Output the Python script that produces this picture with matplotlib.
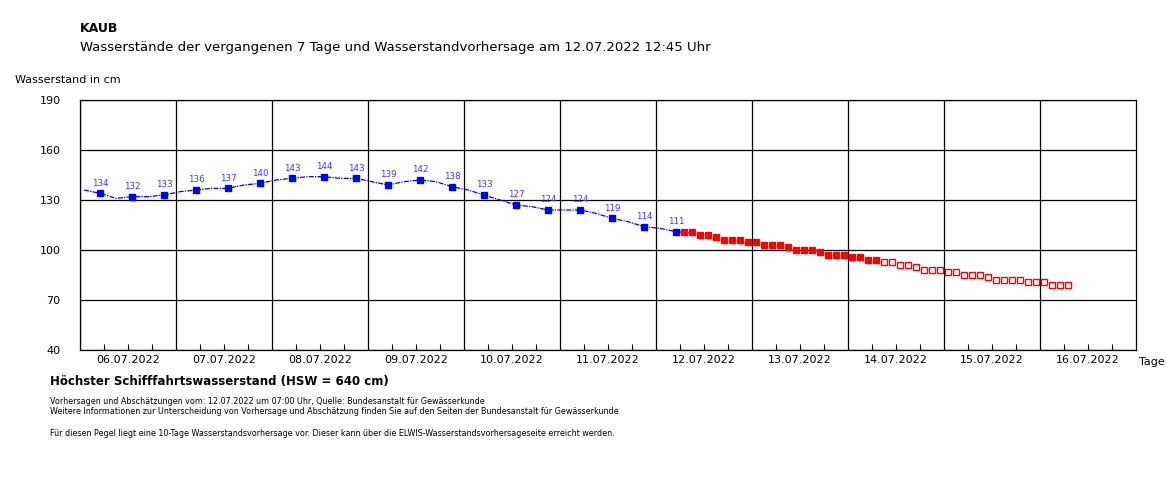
import matplotlib
matplotlib.use('Agg')
import matplotlib.pyplot as plt
import matplotlib.dates as mdates
import matplotlib.transforms as mtransforms
import pandas as pd

# Messwerte (beschriftete Punkte alle 8 Stunden)
mess_zeit = pd.date_range('2022-07-06 05:00', periods=19, freq='8h')
mess_werte = [134, 132, 133, 136, 137, 140, 143, 144, 143, 139,
              142, 138, 133, 127, 124, 124, 119, 114, 111]

linie_zeit = pd.date_range('2022-07-06 01:00', periods=39, freq='4h')
linie_werte = [136, 134, 131, 132, 132, 133, 135, 136, 137, 137,
               139, 140, 142, 143, 144, 144, 143, 143, 141, 139,
               141, 142, 141, 138, 136, 133, 130, 127, 126, 124,
               124, 124, 122, 119, 117, 114, 113, 111, 110]

# Vorhersage (gefuellt) und Abschaetzung (hohl), alle 2 Stunden
vorh_zeit = pd.date_range('2022-07-12 07:00', periods=49, freq='2h')
vorh_werte = [111, 111, 109, 109, 108, 106, 106, 106, 105, 105,
              103, 103, 103, 102, 100, 100, 100, 99, 97, 97,
              97, 96, 96, 94, 94,
              93, 93, 91, 91, 90, 88, 88, 88, 87, 87,
              85, 85, 85, 84, 82, 82, 82, 82, 81, 81,
              81, 79, 79, 79]
n_vorhersage = 25

tage = pd.date_range('2022-07-06', periods=11, freq='D')
y_ticks = [40, 70, 100, 130, 160, 190]

W, H = 1166, 480
fig = plt.figure(figsize=(W / 100, H / 100), dpi=100)
ax = fig.add_axes([80 / W, 1 - 350 / H, 1056 / W, 250 / H])

ax.plot(linie_zeit, linie_werte, color='#0000ff', lw=0.9,
        linestyle=(0, (4, 1, 1, 1)), zorder=3)
ax.plot(mess_zeit, mess_werte, 's', color='#0000ff', ms=4.3, zorder=4)
for t, v in zip(mess_zeit, mess_werte):
    ax.annotate(str(v), (t, v), xytext=(0, 4), textcoords='offset points',
                ha='center', va='bottom', fontsize=6.3, color='#3c3cff')

ax.plot(vorh_zeit[:n_vorhersage], vorh_werte[:n_vorhersage], 's',
        color='#ff0000', ms=4.3, zorder=5)
ax.plot(vorh_zeit[n_vorhersage:], vorh_werte[n_vorhersage:], 's',
        mfc='white', mec='#ff0000', mew=1.0, ms=3.9, zorder=5)

ax.set_xlim(pd.Timestamp('2022-07-06'), pd.Timestamp('2022-07-17'))
ax.set_ylim(40, 190)
ax.set_yticks(y_ticks)
ax.tick_params(axis='y', length=0, pad=14, labelsize=8)

# Tagesgitter, Beschriftung zur Tagesmitte
ax.set_xticks(tage)
ax.xaxis.set_major_formatter(mdates.DateFormatter(''))
ax.xaxis.set_minor_locator(mdates.HourLocator(byhour=[6, 12, 18]))
ax.tick_params(axis='x', which='major', length=0)
ax.tick_params(axis='x', which='minor', direction='in', length=4,
               width=0.8, color='black')
off = mtransforms.ScaledTranslation(0, -5 / 100, fig.dpi_scale_trans)
for t in tage:
    ax.text(t + pd.Timedelta(hours=12), 40, t.strftime('%d.%m.%Y'),
            ha='center', va='top', fontsize=8,
            transform=ax.transData + off, clip_on=False)
ax.grid(True, which='major', color='black', lw=0.9)
for s in ax.spines.values():
    s.set_linewidth(0.9)

fig.text(1139 / W, 1 - 362 / H, 'Tage', ha='left', va='center', fontsize=8)
fig.text(80 / W, 1 - 28 / H, 'KAUB', ha='left', va='center',
         fontsize=9, fontweight='bold')
fig.text(80 / W, 1 - 48 / H,
         'Wasserstände der vergangenen 7 Tage und Wasserstandvorhersage am 12.07.2022 12:45 Uhr',
         ha='left', va='center', fontsize=9.5)
fig.text(15 / W, 1 - 80 / H, 'Wasserstand in cm', ha='left', va='center',
         fontsize=8)
fig.text(50 / W, 1 - 381 / H, 'Höchster Schifffahrtswasserstand (HSW = 640 cm)',
         ha='left', va='center', fontsize=8.5, fontweight='bold')
fig.text(50 / W, 1 - 402 / H,
         'Vorhersagen und Abschätzungen vom: 12.07.2022 um 07:00 Uhr, Quelle: Bundesanstalt für Gewässerkunde',
         ha='left', va='center', fontsize=5.8)
fig.text(50 / W, 1 - 412 / H,
         'Weitere Informationen zur Unterscheidung von Vorhersage und Abschätzung finden Sie auf den Seiten der Bundesanstalt für Gewässerkunde',
         ha='left', va='center', fontsize=5.8)
fig.text(50 / W, 1 - 433 / H,
         'Für diesen Pegel liegt eine 10-Tage Wasserstandsvorhersage vor. Dieser kann über die ELWIS-Wasserstandsvorhersageseite erreicht werden.',
         ha='left', va='center', fontsize=5.8)

fig.savefig('out.png', dpi=100)
